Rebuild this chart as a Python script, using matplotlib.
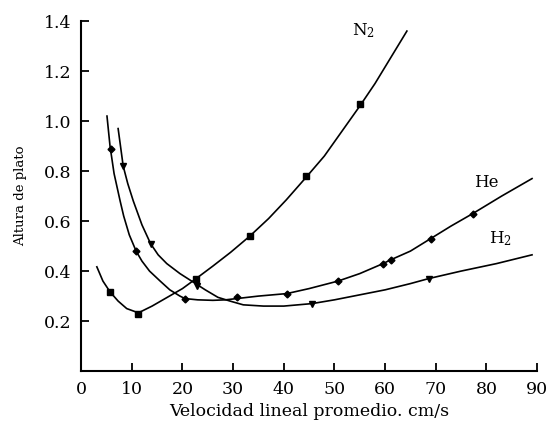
import numpy as np
import matplotlib
matplotlib.use('Agg')
import matplotlib.pyplot as plt

plt.rcParams['font.family'] = 'DejaVu Serif'
plt.rcParams['mathtext.fontset'] = 'dejavuserif'

# N2 curve (squares)
n2_x = [3.1, 4.3, 5.7, 7.3, 9.0, 11.3, 14.0, 17.0, 20.0, 22.7, 26.0, 29.5, 33.3, 37.0,
        40.5, 44.4, 48.0, 51.5, 55.0, 58.0, 61.0, 64.3]
n2_y = [0.417, 0.36, 0.317, 0.28, 0.25, 0.233, 0.26, 0.295, 0.33, 0.37, 0.42, 0.475, 0.54, 0.61,
        0.685, 0.775, 0.86, 0.96, 1.06, 1.15, 1.25, 1.36]
n2_mx = [5.7, 11.3, 22.7, 33.3, 44.4, 55.0]
n2_my = [0.315, 0.23, 0.37, 0.54, 0.78, 1.07]

# He curve (diamonds)
he_x = [5.1, 5.7, 6.5, 7.7, 8.4, 9.5, 10.85, 12.0, 13.5, 15.6, 17.5, 19.5, 20.5, 23.0, 26.0,
        28.5, 30.7, 35.0, 40.6, 45.0, 50.7, 55.0, 59.6, 61.1, 65.0, 69.0, 73.0, 77.3, 83.0, 89.0]
he_y = [1.02, 0.90, 0.79, 0.68, 0.62, 0.545, 0.48, 0.44, 0.40, 0.36, 0.325, 0.30, 0.29, 0.285,
        0.283, 0.285, 0.29, 0.30, 0.31, 0.33, 0.36, 0.39, 0.43, 0.445, 0.48, 0.53, 0.58, 0.63,
        0.70, 0.77]
he_mx = [5.8, 10.85, 20.5, 30.7, 40.6, 50.7, 59.6, 61.1, 69.0, 77.3]
he_my = [0.89, 0.48, 0.29, 0.295, 0.31, 0.36, 0.43, 0.445, 0.53, 0.63]

# H2 curve (triangles)
h2_x = [7.3, 8.3, 9.2, 10.3, 12.0, 13.7, 15.2, 16.9, 19.5, 22.2, 24.5, 27.0, 29.4, 32.0, 36.0,
        40.0, 45.6, 50.0, 55.0, 60.0, 65.0, 68.6, 75.0, 82.0, 89.0]
h2_y = [0.97, 0.82, 0.75, 0.68, 0.585, 0.51, 0.465, 0.43, 0.39, 0.355, 0.325, 0.295, 0.28, 0.265,
        0.26, 0.26, 0.27, 0.285, 0.305, 0.325, 0.35, 0.37, 0.40, 0.43, 0.465]
h2_mx = [8.3, 13.7, 22.9, 45.6, 68.6]
h2_my = [0.82, 0.51, 0.34, 0.27, 0.37]

fig = plt.figure(figsize=(5.52, 4.30), dpi=100)
ax = fig.add_axes([0.147, 0.137, 0.826, 0.814])

ax.plot(n2_x, n2_y, color='black', lw=1.2)
ax.plot(n2_mx, n2_my, 's', color='black', ms=5)
ax.plot(he_x, he_y, color='black', lw=1.2)
ax.plot(he_mx, he_my, 'D', color='black', ms=3.5)
ax.plot(h2_x, h2_y, color='black', lw=1.2)
ax.plot(h2_mx, h2_my, 'v', color='black', ms=4.5)

ax.text(53.5, 1.36, 'N$_2$', fontsize=12, va='center', ha='left')
ax.text(77.5, 0.755, 'He', fontsize=12, va='center', ha='left')
ax.text(80.5, 0.53, 'H$_2$', fontsize=12, va='center', ha='left')

ax.set_xlim(0, 90)
ax.set_ylim(0, 1.4)
ax.set_xticks(range(0, 91, 10))
ax.set_yticks([0.2, 0.4, 0.6, 0.8, 1.0, 1.2, 1.4])
ax.set_yticklabels(['0.2', '0.4', '0.6', '0.8', '1.0', '1.2', '1.4'])
ax.spines['top'].set_visible(False)
ax.spines['right'].set_visible(False)
ax.spines['left'].set_linewidth(1.5)
ax.spines['bottom'].set_linewidth(1.5)
ax.tick_params(direction='in', length=6, width=1.3, labelsize=12.5, pad=7)
ax.set_xlabel('Velocidad lineal promedio. cm/s', fontsize=12.5, labelpad=4)
ax.set_ylabel('Altura de plato', fontsize=9.5, labelpad=12)

fig.savefig('out.png', dpi=100)
